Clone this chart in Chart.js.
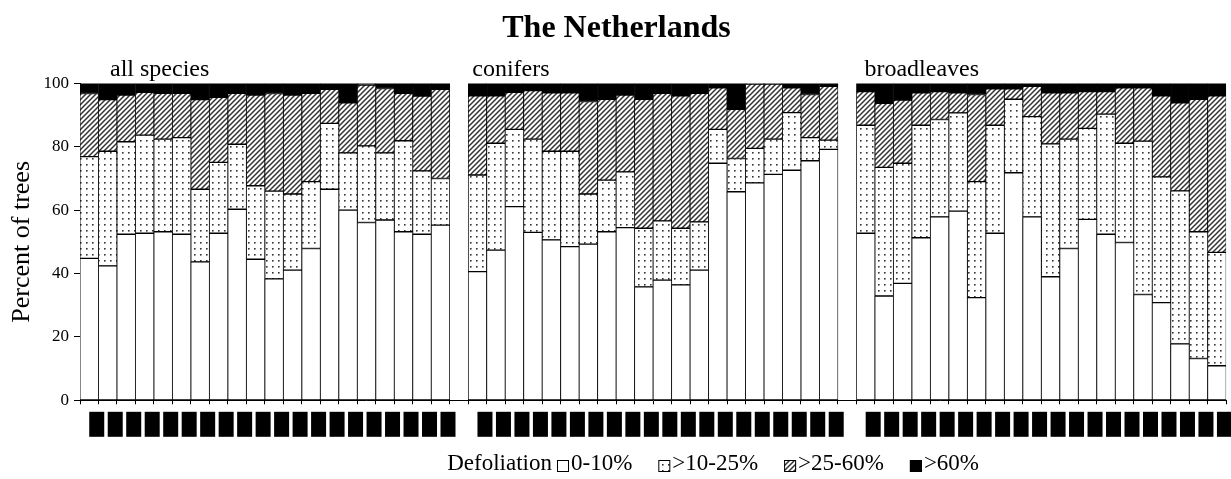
<!DOCTYPE html>
<html>
<head>
<meta charset="utf-8">
<title>The Netherlands - defoliation</title>
<script src="https://cdn.jsdelivr.net/npm/chart.js@4.4.1/dist/chart.umd.min.js"></script>
<style>
    html, body { margin: 0; padding: 0; background: #fff; }
    #wrap { width: 1231px; height: 479px; overflow: hidden; }
    canvas { display: block; }
</style>
</head>
<body>
<div id="wrap"><canvas id="defoliationChart" width="1240" height="479"></canvas></div>
<script>
// Survey years, repeated for every species group
const years = ['1989', '1990', '1991', '1992', '1993', '1994', '1995', '1996', '1997', '1998',
               '1999', '2000', '2001', '2002', '2003', '2004', '2005', '2006', '2007', '2008'];
const groupNames = ['all species', 'conifers', 'broadleaves'];
const classNames = ['0-10%', '>10-25%', '>25-60%', '>60%'];
const yTicks = [0, 20, 40, 60, 80, 100];

// Percent of trees per defoliation class
const allSpecies0to10  = [44.8, 42.4, 52.4, 52.7, 53.2, 52.4, 43.7, 52.7, 60.3, 44.5, 38.3, 41.1, 47.9, 66.6, 60.0, 56.1, 56.9, 53.2, 52.4, 55.3];
const allSpecies10to25 = [32.1, 36.2, 29.2, 31.0, 29.2, 30.5, 22.9, 22.4, 20.5, 23.2, 27.7, 24.0, 21.1, 20.8, 18.1, 24.2, 21.2, 28.7, 20.0, 14.7];
const allSpecies25to60 = [19.9, 16.3, 14.7, 13.5, 14.5, 14.0, 28.3, 20.5, 16.1, 28.6, 30.8, 31.2, 27.9, 10.7, 15.8, 19.2, 20.3, 15.0, 23.6, 28.1];
const allSpeciesOver60 = [3.2, 5.1, 3.7, 2.8, 3.1, 3.1, 5.1, 4.4, 3.1, 3.7, 3.2, 3.7, 3.1, 1.9, 6.1, 0.5, 1.6, 3.1, 4.0, 1.9];

const conifers0to10  = [40.6, 47.4, 61.1, 53.0, 50.6, 48.5, 49.3, 53.2, 54.5, 35.8, 37.9, 36.4, 41.1, 74.8, 65.8, 68.6, 71.3, 72.6, 75.6, 79.2];
const conifers10to25 = [30.5, 33.7, 24.4, 29.4, 28.0, 30.1, 15.8, 16.3, 17.6, 18.5, 18.7, 17.9, 15.2, 10.7, 10.5, 10.9, 11.1, 18.2, 7.3, 2.9];
const conifers25to60 = [25.0, 15.0, 11.7, 15.3, 18.4, 18.4, 29.2, 25.5, 24.2, 40.7, 40.3, 41.8, 40.6, 13.1, 15.5, 20.3, 17.4, 7.8, 13.6, 17.0];
const conifersOver60 = [3.9, 3.9, 2.8, 2.3, 3.0, 3.0, 5.7, 5.0, 3.7, 5.0, 3.1, 3.9, 3.1, 1.4, 8.2, 0.2, 0.2, 1.4, 3.5, 0.9];

const broadleaves0to10  = [52.7, 32.9, 36.9, 51.3, 57.9, 59.7, 32.4, 52.7, 71.8, 57.9, 39.0, 47.9, 57.1, 52.4, 49.8, 33.4, 30.8, 17.8, 13.2, 10.9];
const broadleaves10to25 = [34.1, 40.6, 37.9, 35.5, 30.7, 31.0, 36.6, 34.1, 23.2, 31.6, 41.9, 34.5, 28.7, 37.9, 31.3, 48.4, 39.7, 48.3, 40.0, 35.8];
const broadleaves25to60 = [10.6, 20.2, 19.9, 10.2, 8.8, 6.3, 27.5, 11.5, 3.3, 9.6, 16.1, 14.6, 11.6, 7.1, 17.5, 16.8, 25.6, 27.8, 41.8, 49.4];
const broadleavesOver60 = [2.6, 6.3, 5.3, 3.0, 2.6, 3.0, 3.5, 1.7, 1.7, 0.9, 3.0, 3.0, 2.6, 2.6, 1.4, 1.4, 3.9, 6.1, 5.0, 3.9];

const SERIF = "'Liberation Serif', 'Times New Roman', serif";
const panelLabelInset = [30, 4, 8];

// Join the three groups into one category axis with an empty slot between them
function joinGroups(a, b, c) {
    return [...a, null, ...b, null, ...c];
}

function dotPattern() {
    const c = document.createElement('canvas');
    c.width = 6; c.height = 6;
    const g = c.getContext('2d');
    g.fillStyle = '#fff';
    g.fillRect(0, 0, 6, 6);
    g.fillStyle = '#333';
    g.fillRect(2, 2, 1.6, 1.6);
    return g.createPattern(c, 'repeat');
}

function hatchPattern() {
    const s = 5;
    const c = document.createElement('canvas');
    c.width = s; c.height = s;
    const g = c.getContext('2d');
    g.fillStyle = '#fff';
    g.fillRect(0, 0, s, s);
    g.strokeStyle = '#333';
    g.lineWidth = 1.5;
    g.beginPath();
    g.moveTo(0, s); g.lineTo(s, 0);
    g.moveTo(-1, 1); g.lineTo(1, -1);
    g.moveTo(s - 1, s + 1); g.lineTo(s + 1, s - 1);
    g.stroke();
    return g.createPattern(c, 'repeat');
}

// Group titles above each block of bars
const panelLabels = {
    id: 'panelLabels',
    afterDraw(chart) {
        const x = chart.scales.x;
        const ctx = chart.ctx;
        const half = (x.getPixelForValue(1) - x.getPixelForValue(0)) / 2;
        ctx.save();
        ctx.font = '24px ' + SERIF;
        ctx.fillStyle = '#000';
        ctx.textBaseline = 'alphabetic';
        groupNames.forEach((name, g) => {
            const first = g * (years.length + 1);
            const left = x.getPixelForValue(first) - half;
            ctx.fillText(name, left + panelLabelInset[g], chart.chartArea.top - 7);
        });
        ctx.restore();
    }
};

// Legend row: "Defoliation" followed by the four class swatches
const classLegend = {
    id: 'classLegend',
    afterDraw(chart) {
        const ctx = chart.ctx;
        const y = chart.height - 15;
        let x = 557;
        ctx.save();
        ctx.font = '23px ' + SERIF;
        ctx.fillStyle = '#000';
        ctx.textBaseline = 'middle';
        ctx.textAlign = 'right';
        ctx.fillText('Defoliation', x - 5, y);
        ctx.textAlign = 'left';
        chart.data.datasets.forEach(ds => {
            ctx.fillStyle = ds.backgroundColor;
            ctx.fillRect(x, y - 4, 12, 12);
            ctx.strokeStyle = '#000';
            ctx.lineWidth = 1;
            ctx.strokeRect(x + 0.5, y - 3.5, 11, 11);
            ctx.fillStyle = '#000';
            ctx.fillText(ds.label, x + 14, y);
            x += 14 + ctx.measureText(ds.label).width + 26;
        });
        ctx.restore();
    }
};

document.addEventListener('DOMContentLoaded', function() {
    const labels = [...years, '', ...years, '', ...years];
    const fills = ['#fff', dotPattern(), hatchPattern(), '#000'];
    const series = [
        joinGroups(allSpecies0to10, conifers0to10, broadleaves0to10),
        joinGroups(allSpecies10to25, conifers10to25, broadleaves10to25),
        joinGroups(allSpecies25to60, conifers25to60, broadleaves25to60),
        joinGroups(allSpeciesOver60, conifersOver60, broadleavesOver60)
    ];

    new Chart(document.getElementById('defoliationChart'), {
        type: 'bar',
        data: {
            labels: labels,
            datasets: series.map((data, i) => ({
                label: classNames[i],
                data: data,
                backgroundColor: fills[i],
                borderColor: '#000',
                borderWidth: { top: 1, bottom: 1, left: 0.8, right: 0.8 },
                borderSkipped: false,
                barPercentage: 1,
                categoryPercentage: 1
            }))
        },
        options: {
            responsive: false,
            devicePixelRatio: 1,
            animation: false,
            layout: { padding: { left: 0, right: 7, top: 0, bottom: 40 } },
            plugins: {
                legend: { display: false },
                tooltip: { enabled: false },
                title: {
                    display: true,
                    text: 'The Netherlands',
                    color: '#000',
                    font: { family: SERIF, size: 32, weight: 'bold', lineHeight: 1.2 },
                    padding: { top: 10, bottom: 35 }
                }
            },
            scales: {
                x: {
                    stacked: true,
                    grid: { drawOnChartArea: false, tickLength: 4, color: '#000', offset: true },
                    border: { color: '#000', width: 1 },
                    ticks: {
                        autoSkip: false,
                        minRotation: 90,
                        maxRotation: 90,
                        padding: 8,
                        color: '#000',
                        font: { family: SERIF, size: 12, lineHeight: 1.25 },
                        showLabelBackdrop: true,
                        backdropColor: ctx => (ctx.tick && ctx.tick.label ? '#000' : 'rgba(0,0,0,0)'),
                        backdropPadding: { left: 0.5, right: 0.5, top: 0, bottom: 0 }
                    },
                    afterFit: scale => { scale.height = 38.7; }
                },
                y: {
                    stacked: true,
                    min: 0,
                    max: 100,
                    afterBuildTicks: scale => { scale.ticks = yTicks.map(v => ({ value: v })); },
                    ticks: { color: '#000', font: { family: SERIF, size: 17 }, padding: 5 },
                    grid: { drawOnChartArea: false, tickLength: 6, color: '#000' },
                    border: { color: '#000', width: 1 },
                    title: {
                        display: true,
                        text: 'Percent of trees',
                        color: '#000',
                        font: { family: SERIF, size: 26 },
                        padding: { top: 7, bottom: 0 }
                    },
                    afterFit: scale => { scale.width = 80; }
                }
            }
        },
        plugins: [panelLabels, classLegend]
    });
});
</script>
</body>
</html>
